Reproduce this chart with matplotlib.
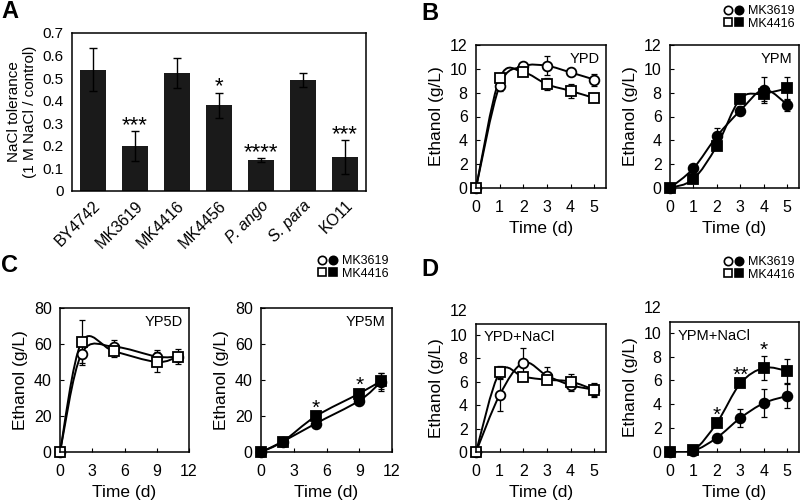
import numpy as np
import matplotlib
matplotlib.use("Agg")
import matplotlib.pyplot as plt
from matplotlib.path import Path
from matplotlib.patches import PathPatch
from matplotlib.lines import Line2D
from matplotlib.legend_handler import HandlerTuple

plt.rcParams["font.family"] = ["Liberation Sans", "DejaVu Sans"]

# ---- panel A: NaCl tolerance ----
strains = ["BY4742", "MK3619", "MK4416", "MK4456", "P. ango", "S. para", "KO11"]
tolerance = [0.538, 0.200, 0.524, 0.379, 0.137, 0.492, 0.150]
tolerance_err = [0.097, 0.066, 0.067, 0.057, 0.008, 0.031, 0.075]
tolerance_stars = ["", "***", "", "*", "****", "", "***"]

# ---- panels B-D: ethanol time courses (MK3619 = circle, MK4416 = square) ----
days5 = [0, 1, 2, 3, 4, 5]
days12 = [0, 2, 5, 9, 11]

ypd_mk3619 = [0, 8.6, 10.2, 10.25, 9.7, 9.1]
ypd_mk3619_err = [0, 0.5, 0.2, 0.8, 0.2, 0.5]
ypd_mk4416 = [0, 9.2, 9.7, 8.7, 8.15, 7.55]
ypd_mk4416_err = [0, 0.3, 0.2, 0.5, 0.6, 0.2]

ypm_mk3619 = [0, 1.65, 4.35, 6.5, 8.25, 7.0]
ypm_mk3619_err = [0, 0.1, 0.7, 0.4, 1.1, 0.5]
ypm_mk4416 = [0, 0.75, 3.55, 7.5, 7.9, 8.35]
ypm_mk4416_err = [0, 0.1, 0.3, 0.2, 0.6, 1.0]

yp5d_mk3619 = [0, 54.5, 58.5, 53, 53]
yp5d_mk3619_err = [0, 5, 4, 3.5, 2]
yp5d_mk4416 = [0, 61, 56, 50, 53]
yp5d_mk4416_err = [0, 12.5, 3, 5.5, 4]

yp5m_mk3619 = [0, 5.8, 15.8, 28.5, 39]
yp5m_mk3619_err = [0, 0.5, 1, 1, 5]
yp5m_mk4416 = [0, 5.8, 19.8, 32.5, 39.5]
yp5m_mk4416_err = [0, 0.5, 1.5, 1.5, 4.5]
yp5m_stars = ["", "", "*", "*", ""]

ypdna_mk3619 = [0, 4.85, 7.6, 6.5, 5.7, 5.3]
ypdna_mk3619_err = [0, 1.4, 1.25, 0.7, 0.5, 0.5]
ypdna_mk4416 = [0, 6.8, 6.4, 6.15, 6.0, 5.3]
ypdna_mk4416_err = [0, 0.5, 0.2, 0.2, 0.6, 0.6]

ypmna_mk3619 = [0, 0.1, 1.2, 2.85, 4.1, 4.7]
ypmna_mk3619_err = [0, 0.05, 0.35, 0.75, 1.15, 1.0]
ypmna_mk4416 = [0, 0.15, 2.45, 5.75, 7.05, 6.8]
ypmna_mk4416_err = [0, 0.05, 0.2, 0.2, 1.0, 1.0]
ypmna_stars = ["", "", "*", "**", "*", ""]

W, H = 800, 504
fig = plt.figure(figsize=(W / 100, H / 100), dpi=100)


def add_ax(left, right, top, bottom):
    return fig.add_axes([left / W, 1 - bottom / H, (right - left) / W, (bottom - top) / H])


def smooth_path(x, y):
    # Excel-like smoothed line (Catmull-Rom as cubic Bezier)
    pts = np.column_stack([x, y]).astype(float)
    n = len(pts)
    verts = [pts[0]]
    codes = [Path.MOVETO]
    for i in range(n - 1):
        p0 = pts[max(i - 1, 0)]
        p1 = pts[i]
        p2 = pts[i + 1]
        p3 = pts[min(i + 2, n - 1)]
        verts += [p1 + (p2 - p0) / 6, p2 - (p3 - p1) / 6, p2]
        codes += [Path.CURVE4] * 3
    return Path(verts, codes)


def draw_series(ax, t, vals, errs, marker, filled):
    ax.add_patch(PathPatch(smooth_path(t, vals), fill=False, lw=1.4, ec="black", zorder=2))
    eb = ax.errorbar(t, vals, yerr=errs, fmt="none", ecolor="black", elinewidth=0.9,
                     capsize=2.2, capthick=0.9, zorder=3)
    for art in eb.lines[1] + eb.lines[2]:
        art.set_clip_on(False)
    ax.plot(t, vals, linestyle="none", marker=marker, ms=7 if marker == "o" else 7.5,
            mfc="black" if filled else "white", mec="black", mew=1.3, zorder=4,
            clip_on=False)


def line_panel(ax, t, c, ce, s, se, filled, label, ylim, yticks, xlim, xticks,
               label_left=False, stars=None, extra_top=None):
    draw_series(ax, t, c, ce, "o", filled)
    draw_series(ax, t, s, se, "s", filled)
    ax.set_xlim(*xlim)
    ax.set_ylim(*ylim)
    ax.set_xticks(xticks)
    ax.set_yticks(yticks)
    ax.tick_params(direction="in", length=3, width=0.8, labelsize=11.5)
    ax.tick_params(axis="x", pad=9)
    ax.tick_params(axis="y", pad=6)
    for sp in ax.spines.values():
        sp.set_linewidth(1.1)
        sp.set_zorder(5)
    ax.set_xlabel("Time (d)", fontsize=12.5, labelpad=4)
    ax.set_ylabel("Ethanol (g/L)", fontsize=12.5, labelpad=4)
    if label_left:
        ax.text(0.06, 0.95, label, transform=ax.transAxes, ha="left", va="top", fontsize=10.5)
    else:
        ax.text(0.95, 0.95, label, transform=ax.transAxes, ha="right", va="top", fontsize=10.5)
    if stars is not None:
        for ti, v, e, st in zip(t, s, se, stars):
            if st:
                ax.text(ti, v + e, st, ha="center", va="baseline", fontsize=15)
    if extra_top is not None:
        ax.annotate(str(extra_top), xy=(0, extra_top), xycoords=ax.get_yaxis_transform(),
                    xytext=(-6, 0), textcoords="offset points", ha="right",
                    va="center", fontsize=11.5, annotation_clip=False)


def strain_legend(x, y):
    oc = Line2D([], [], ls="none", marker="o", ms=6, mfc="white", mec="black", mew=1.2)
    fc = Line2D([], [], ls="none", marker="o", ms=6, mfc="black", mec="black", mew=1.2)
    os_ = Line2D([], [], ls="none", marker="s", ms=6, mfc="white", mec="black", mew=1.2)
    fs = Line2D([], [], ls="none", marker="s", ms=6, mfc="black", mec="black", mew=1.2)
    fig.legend([(oc, fc), (os_, fs)], ["MK3619", "MK4416"],
               handler_map={tuple: HandlerTuple(ndivide=None, pad=0.1)},
               loc="upper left", bbox_to_anchor=(x / W, 1 - y / H), frameon=False,
               fontsize=9, handlelength=1.7, handletextpad=0.3, labelspacing=0.05,
               borderpad=0, borderaxespad=0)


# ---- A ----
axA = add_ax(72, 366, 33, 191)
xpos = np.arange(len(strains))
axA.bar(xpos, tolerance, width=0.6, color="#1a1a1a", zorder=2)
axA.errorbar(xpos, tolerance, yerr=tolerance_err, fmt="none", ecolor="black",
             elinewidth=1.0, capsize=3, capthick=1.0, zorder=3)
for xi, v, e, st in zip(xpos, tolerance, tolerance_err, tolerance_stars):
    if st:
        axA.text(xi, v + e, st, ha="center", va="baseline", fontsize=16)
axA.set_xlim(-0.5, len(strains) - 0.5)
axA.set_ylim(0, 0.7)
axA.set_yticks(np.arange(0, 0.71, 0.1))
axA.set_yticklabels(["0" if v == 0 else f"{v:.1f}" for v in np.arange(0, 0.71, 0.1)])
axA.set_xticks(xpos)
axA.set_xticklabels(strains, rotation=45, ha="right", rotation_mode="anchor", fontsize=11.5)
for lab in axA.get_xticklabels():
    if lab.get_text() in ("P. ango", "S. para"):
        lab.set_style("italic")
axA.tick_params(length=0)
axA.tick_params(axis="y", labelsize=11, pad=6)
axA.tick_params(axis="x", pad=5)
for sp in axA.spines.values():
    sp.set_linewidth(1.1)
axA.set_ylabel("NaCl tolerance\n(1 M NaCl / control)", fontsize=11, labelpad=4, linespacing=1.15)

# ---- B ----
axB1 = add_ax(476, 606, 45, 188)
line_panel(axB1, days5, ypd_mk3619, ypd_mk3619_err, ypd_mk4416, ypd_mk4416_err, False,
           "YPD", (0, 12), range(0, 13, 2), (0, 5.5), days5)
axB2 = add_ax(670, 799, 45, 188)
line_panel(axB2, days5, ypm_mk3619, ypm_mk3619_err, ypm_mk4416, ypm_mk4416_err, True,
           "YPM", (0, 12), range(0, 13, 2), (0, 5.5), days5)

# ---- C ----
axC1 = add_ax(60, 189, 308, 452)
line_panel(axC1, days12, yp5d_mk3619, yp5d_mk3619_err, yp5d_mk4416, yp5d_mk4416_err, False,
           "YP5D", (0, 80), range(0, 81, 20), (0, 12), range(0, 13, 3))
axC2 = add_ax(261, 392, 308, 452)
line_panel(axC2, days12, yp5m_mk3619, yp5m_mk3619_err, yp5m_mk4416, yp5m_mk4416_err, True,
           "YP5M", (0, 80), range(0, 81, 20), (0, 12), range(0, 13, 3), stars=yp5m_stars)

# ---- D ----
axD1 = add_ax(476, 606, 324, 452)
line_panel(axD1, days5, ypdna_mk3619, ypdna_mk3619_err, ypdna_mk4416, ypdna_mk4416_err, False,
           "YPD+NaCl", (0, 10.9), range(0, 11, 2), (0, 5.5), days5, label_left=True, extra_top=12)
axD2 = add_ax(670, 799, 322, 452)
line_panel(axD2, days5, ypmna_mk3619, ypmna_mk3619_err, ypmna_mk4416, ypmna_mk4416_err, True,
           "YPM+NaCl", (0, 10.9), range(0, 11, 2), (0, 5.5), days5, label_left=True,
           stars=ypmna_stars, extra_top=12)

# legends
strain_legend(723, 5)
strain_legend(317, 255)
strain_legend(723, 256)

# panel letters
for lx, ly, letter in [(1, 11, "A"), (421, 13, "B"), (1, 266, "C"), (421, 270, "D")]:
    fig.text(lx / W, 1 - ly / H, letter, fontsize=17, fontweight="bold", ha="left", va="center")

fig.savefig("out.png", dpi=100)
